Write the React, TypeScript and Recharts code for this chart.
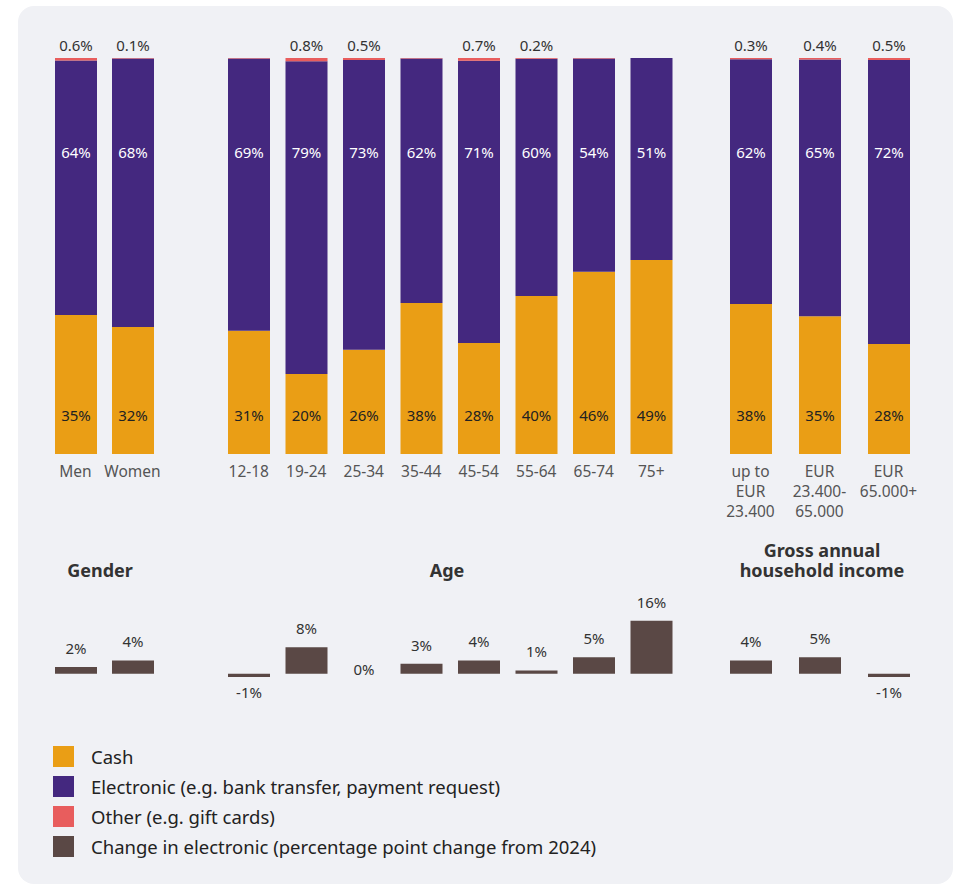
import React from 'react';
import { BarChart, Bar, XAxis, YAxis, LabelList, Rectangle } from 'recharts';

const FONT = '"Noto Sans", "Open Sans", sans-serif';

const CASH = '#EA9E15';
const ELECTRONIC = '#44287F';
const OTHER = '#E85D5D';
const CHANGE = '#5A4845';

// Gender
const genderCats = ['Men', 'Women'];
const genderCash = [35.1, 32.1];
const genderElectronic = [64.3, 67.8];
const genderOther = [0.6, 0.1];
const genderOtherLabels = ['0.6%', '0.1%'];
const genderChange = [2, 4];

// Age
const ageCats = ['12-18', '19-24', '25-34', '35-44', '45-54', '55-64', '65-74', '75+'];
const ageCash = [31.1, 20.2, 26.3, 38.1, 28.0, 39.9, 46.0, 49.0];
const ageElectronic = [68.8, 79.0, 73.2, 61.8, 71.3, 59.9, 53.9, 51.0];
const ageOther = [0.1, 0.8, 0.5, 0.1, 0.7, 0.2, 0.1, 0];
const ageOtherLabels = ['', '0.8%', '0.5%', '', '0.7%', '0.2%', '', ''];
const ageChange = [-1, 8, 0, 3, 4, 1, 5, 16];

// Gross annual household income
const incomeCats = ['up to\nEUR\n23.400', 'EUR\n23.400-\n65.000', 'EUR\n65.000+'];
const incomeCash = [37.9, 34.8, 27.8];
const incomeElectronic = [61.8, 64.8, 71.7];
const incomeOther = [0.3, 0.4, 0.5];
const incomeOtherLabels = ['0.3%', '0.4%', '0.5%'];
const incomeChange = [4, 5, -1];

const legendItems = [
  { label: 'Cash', color: CASH },
  { label: 'Electronic (e.g. bank transfer, payment request)', color: ELECTRONIC },
  { label: 'Other (e.g. gift cards)', color: OTHER },
  { label: 'Change in electronic (percentage point change from 2024)', color: CHANGE },
];

const W = 955;
const H = 886;
const PLOT_TOP = 58;
const PLOT_BOTTOM = 454;

const buildRows = (cats: string[], cash: number[], elec: number[], other: number[], otherLabels: string[], change: number[]) =>
  cats.map((name, i) => ({
    name,
    cash: cash[i],
    electronic: elec[i],
    other: other[i],
    otherLabel: otherLabels[i],
    change: change[i],
  }));

const genderRows = buildRows(genderCats, genderCash, genderElectronic, genderOther, genderOtherLabels, genderChange);
const ageRows = buildRows(ageCats, ageCash, ageElectronic, ageOther, ageOtherLabels, ageChange);
const incomeRows = buildRows(incomeCats, incomeCash, incomeElectronic, incomeOther, incomeOtherLabels, incomeChange);

const CatTick = (props: any) => {
  const { x, y, payload } = props;
  const lines = String(payload.value).split('\n');
  return (
    <text x={x} y={y + 23} textAnchor="middle" fill="#555" fontSize={15.5} fontFamily={FONT}>
      {lines.map((l, i) => (
        <tspan key={i} x={x} dy={i === 0 ? 0 : 20}>{l}</tspan>
      ))}
    </text>
  );
};

const CashLabel = (props: any) => {
  const { x, y, width, height, value } = props;
  return (
    <text x={x + width / 2} y={y + height - 33} textAnchor="middle" fill="#222" fontSize={15} fontFamily={FONT}>
      {Math.round(value)}%
    </text>
  );
};

const ElecLabel = (props: any) => {
  const { x, width, value } = props;
  return (
    <text x={x + width / 2} y={PLOT_TOP + 100} textAnchor="middle" fill="#fff" fontSize={15} fontFamily={FONT}>
      {Math.round(value)}%
    </text>
  );
};

const OtherLabel = (props: any) => {
  const { x, width, value } = props;
  if (!value) return null;
  return (
    <text x={x + width / 2} y={PLOT_TOP - 7} textAnchor="middle" fill="#333" fontSize={15} fontFamily={FONT}>
      {value}
    </text>
  );
};

const ChangeLabel = (props: any) => {
  const { x, y, width, height, value } = props;
  const top = Math.min(y, y + height);
  const bottom = Math.max(y, y + height);
  let ty = top + 2;
  if (value > 0) ty = top - 13;
  else if (value < 0) ty = bottom + 21;
  return (
    <text x={x + width / 2} y={ty} textAnchor="middle" fill="#333" fontSize={15} fontFamily={FONT}>
      {value}%
    </text>
  );
};

// zero changes keep their label but draw no bar
const ChangeShape = (props: any) => {
  if (props.payload && props.payload.change === 0) return <g />;
  return <Rectangle {...props} />;
};

const StackPanel = ({ data, left, right }: { data: any[]; left: number; right: number }) => (
  <div style={{ position: 'absolute', left: 0, top: 0 }}>
    <BarChart width={W} height={H} data={data} margin={{ top: PLOT_TOP, bottom: H - PLOT_BOTTOM - 60, left, right }}>
      <XAxis dataKey="name" height={60} axisLine={false} tickLine={false} tickSize={0} tickMargin={0} interval={0} tick={<CatTick />} />
      <YAxis hide domain={[0, 100]} />
      <Bar dataKey="cash" stackId="a" fill={CASH} barSize={42} isAnimationActive={false}>
        <LabelList dataKey="cash" content={<CashLabel />} />
      </Bar>
      <Bar dataKey="electronic" stackId="a" fill={ELECTRONIC} barSize={42} isAnimationActive={false}>
        <LabelList dataKey="electronic" content={<ElecLabel />} />
      </Bar>
      <Bar dataKey="other" stackId="a" fill={OTHER} barSize={42} isAnimationActive={false}>
        <LabelList dataKey="otherLabel" content={<OtherLabel />} />
      </Bar>
    </BarChart>
  </div>
);

const ChangePanel = ({ data, left, right }: { data: any[]; left: number; right: number }) => (
  <div style={{ position: 'absolute', left: 0, top: 0 }}>
    <BarChart width={W} height={H} data={data} margin={{ top: 614, bottom: 199, left, right }}>
      <XAxis dataKey="name" hide />
      <YAxis hide domain={[-4, 18]} />
      <Bar dataKey="change" fill={CHANGE} barSize={42} minPointSize={1} shape={<ChangeShape />} isAnimationActive={false}>
        <LabelList dataKey="change" content={<ChangeLabel />} />
      </Bar>
    </BarChart>
  </div>
);

const titleStyle: React.CSSProperties = {
  position: 'absolute',
  fontFamily: FONT,
  fontWeight: 700,
  fontSize: 18,
  lineHeight: '20px',
  color: '#333',
  textAlign: 'center',
  transform: 'translateX(-50%)',
  whiteSpace: 'nowrap',
};

export default function App() {
  return (
    <div style={{ position: 'absolute', left: 0, top: 0, width: W, height: H, background: '#fff', fontFamily: FONT }}>
      <div style={{ position: 'absolute', left: 18, top: 6, width: 935, height: 878, background: '#F0F1F5', borderRadius: 16 }} />

      <StackPanel data={genderRows} left={47} right={W - 161} />
      <StackPanel data={ageRows} left={220} right={W - 680} />
      <StackPanel data={incomeRows} left={716} right={W - 923} />

      <ChangePanel data={genderRows} left={47} right={W - 161} />
      <ChangePanel data={ageRows} left={220} right={W - 680} />
      <ChangePanel data={incomeRows} left={716} right={W - 923} />

      <div style={{ ...titleStyle, left: 100, top: 560 }}>Gender</div>
      <div style={{ ...titleStyle, left: 447, top: 560 }}>Age</div>
      <div style={{ ...titleStyle, left: 822, top: 540 }}>Gross annual</div>
      <div style={{ ...titleStyle, left: 822, top: 560 }}>household income</div>

      <div style={{ position: 'absolute', left: 53, top: 741 }}>
        {legendItems.map((item) => (
          <div key={item.label} style={{ display: 'flex', alignItems: 'center', height: 30 }}>
            <div style={{ width: 21, height: 21, background: item.color, marginRight: 17, flexShrink: 0 }} />
            <span style={{ fontSize: 18.5, color: '#222', whiteSpace: 'nowrap' }}>{item.label}</span>
          </div>
        ))}
      </div>
    </div>
  );
}
